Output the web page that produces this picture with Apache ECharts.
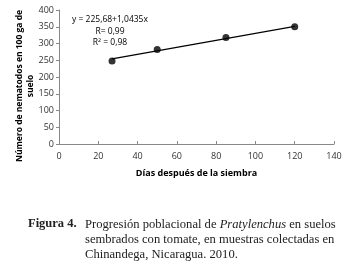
<!DOCTYPE html>
<html>
<head>
<meta charset="utf-8">
<script src="https://cdn.jsdelivr.net/npm/echarts@6/dist/echarts.min.js"></script>
<style>
  html, body { margin: 0; padding: 0; background: #fff; }
  #main { width: 353px; height: 261px; }
</style>
</head>
<body>
<div id="main"></div>
<script>
// observed points (días, nematodos)
const dias = [27, 50, 85, 120];
const nematodos = [248, 282, 318, 350];
// trend line end points
const trendX = [27, 120];
const trendY = [254, 351];
const eqLines = ['y = 225,68+1,0435x', 'R= 0,99', 'R\u00b2 = 0,98'];

const chart = echarts.init(document.getElementById('main'));
const font = '"Open Sans", sans-serif';
const serif = '"Liberation Serif", "DejaVu Serif", serif';

const option = {
  animation: false,
  grid: { left: 59, right: 19, top: 10, bottom: 117 },
  xAxis: {
    type: 'value', min: 0, max: 140, interval: 20,
    name: 'Días después de la siembra',
    nameLocation: 'middle', nameGap: 25,
    nameTextStyle: { fontFamily: font, fontSize: 9, fontWeight: 'bold', color: '#000' },
    axisLine: { lineStyle: { color: '#888' } },
    axisTick: { inside: true, length: 3, lineStyle: { color: '#888' } },
    axisLabel: { fontFamily: font, fontSize: 9, color: '#333', margin: 8 },
    splitLine: { show: false }
  },
  yAxis: {
    type: 'value', min: 0, max: 400, interval: 50,
    axisLine: { show: true, lineStyle: { color: '#888' } },
    axisTick: { show: true, length: 3, lineStyle: { color: '#888' } },
    axisLabel: { fontFamily: font, fontSize: 9, color: '#333', margin: 5 },
    splitLine: { show: false }
  },
  series: [
    {
      type: 'line',
      data: trendX.map((x, i) => [x, trendY[i]]),
      showSymbol: false,
      lineStyle: { color: '#000', width: 1.2 },
      z: 2
    },
    {
      type: 'scatter',
      data: dias.map((x, i) => [x, nematodos[i]]),
      symbolSize: 7,
      itemStyle: { color: '#000' },
      z: 3
    }
  ],
  graphic: [
    {
      type: 'text', x: 25, y: 86, rotation: Math.PI / 2,
      style: {
        text: 'Número de nematodos en 100 ga de\nsuelo',
        font: 'bold 8.5px ' + font, fill: '#000', lineHeight: 11,
        align: 'center', verticalAlign: 'middle'
      }
    },
    {
      type: 'text', x: 110, y: 14,
      style: { text: eqLines.join('\n'), font: '8.5px ' + font, fill: '#000',
        lineHeight: 11.5, align: 'center', verticalAlign: 'top' }
    },
    {
      type: 'text', left: 28, top: 217,
      style: { text: 'Figura 4.', font: 'bold 12.5px ' + serif, fill: '#222' }
    },
    {
      type: 'text', left: 85, top: 217,
      style: {
        text: 'Progresión poblacional de {i|Pratylenchus} en suelos\nsembrados con tomate, en muestras colectadas en\nChinandega, Nicaragua. 2010.',
        font: '12.6px ' + serif, fill: '#222', lineHeight: 15,
        rich: { i: { fontStyle: 'italic', fontFamily: serif, fontSize: 12.6 } }
      }
    }
  ]
};

chart.setOption(option);
</script>
</body>
</html>
